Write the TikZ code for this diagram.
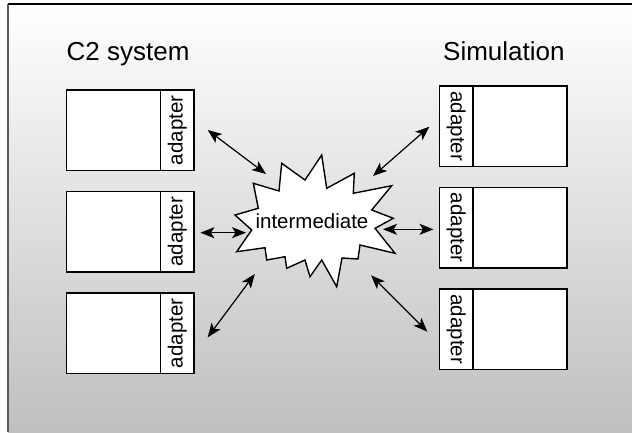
\documentclass[tikz,border=0pt]{standalone}
\usepackage{fontspec}
\setmainfont{Liberation Sans}
\usepackage{tikz}
\usetikzlibrary{positioning,arrows.meta}

\newcommand{\titlesize}{\fontsize{26}{30}\selectfont}
\newcommand{\labelsize}{\fontsize{20.5}{24}\selectfont}

\begin{document}
\begin{tikzpicture}[x=1pt,y=-1pt]
    \tikzstyle{sys} = [draw, rectangle, fill=white, line width=1.5pt, minimum width=94pt, minimum height=80.5pt, inner sep=0pt, outer sep=0pt]
    \tikzstyle{adapt} = [draw, rectangle, fill=white, line width=1.5pt, minimum width=33.5pt, minimum height=80.5pt, inner sep=0pt, outer sep=0pt, font=\labelsize]
    \tikzstyle{title} = [inner sep=0pt, font=\titlesize]
    \tikzstyle{arrow} = [line width=1.2pt,<->,>={Stealth[length=14pt,width=11pt,inset=3.5pt]}]
    \useasboundingbox (0,0) rectangle (632,432);
    % background
    \shade[top color=white, bottom color=black!25] (8,4) rectangle (632,432);
    \draw[black!65, line width=1.5pt] (8,4) -- (8,432);
    \draw[line width=1.3pt] (8,4) -- (632,4);

    \node (c2title) [title, anchor=base west] at (66.5,60.7) {C2 system};
    \node (simtitle) [title, anchor=base west] at (443,60.7) {Simulation};

    % C2 side
    \node (c2a) [sys, anchor=north west] at (66.5,90) {};
    \node (c2aad) [adapt, right=0pt of c2a] {\rotatebox{90}{adapter}};
    \node (c2b) [sys, below=21pt of c2a] {};
    \node (c2bad) [adapt, right=0pt of c2b] {\rotatebox{90}{adapter}};
    \node (c2c) [sys, below=21pt of c2b] {};
    \node (c2cad) [adapt, right=0pt of c2c] {\rotatebox{90}{adapter}};

    % simulation side
    \node (simaad) [adapt, anchor=north west] at (439.5,86) {\rotatebox{-90}{adapter}};
    \node (sima) [sys, right=0pt of simaad] {};
    \node (simbad) [adapt, below=21pt of simaad] {\rotatebox{-90}{adapter}};
    \node (simb) [sys, right=0pt of simbad] {};
    \node (simcad) [adapt, below=21pt of simbad] {\rotatebox{-90}{adapter}};
    \node (simc) [sys, right=0pt of simcad] {};

    % intermediate
    \draw[fill=white, line width=1.4pt, line join=miter] (321.7,155) -- (326.7,188.3) -- (354.3,173.3) -- (353.3,193.3)
        -- (391.7,185.7) -- (371.7,210) -- (393.3,218.3) -- (375,228.3) -- (395,253.3) -- (360,245)
        -- (358,259) -- (342,258) -- (336.7,286.7) -- (321.7,260) -- (310,276.7) -- (305,260)
        -- (286.7,268.3) -- (285,256.7) -- (266.7,260) -- (265,247.7) -- (236.7,251.7) -- (251.7,230)
        -- (235,215) -- (258.3,208.3) -- (253.3,183.3) -- (279,191) -- (281.7,163.3) -- (305,180) -- cycle;
    \node (mid) [inner sep=0pt, font=\labelsize, anchor=base] at (312,228.3) {intermediate};

    \coordinate (ca) at (207.7,130);
    \coordinate (cb) at (200.4,232.7);
    \coordinate (cc) at (207.7,337.3);
    \coordinate (ma) at (266,174);
    \coordinate (mb) at (246,232.7);
    \coordinate (mc) at (254.8,274);
    \coordinate (na) at (373,176);
    \coordinate (nb) at (383,229.3);
    \coordinate (nc) at (371,275.3);
    \coordinate (sa) at (429.4,126.7);
    \coordinate (sb) at (433.5,229.3);
    \coordinate (sc) at (427.4,331.7);

    \draw [arrow] (ca) -- (ma);
    \draw [arrow] (cb) -- (mb);
    \draw [arrow] (cc) -- (mc);
    \draw [arrow] (na) -- (sa);
    \draw [arrow] (nb) -- (sb);
    \draw [arrow] (nc) -- (sc);
  \end{tikzpicture}
\end{document}
